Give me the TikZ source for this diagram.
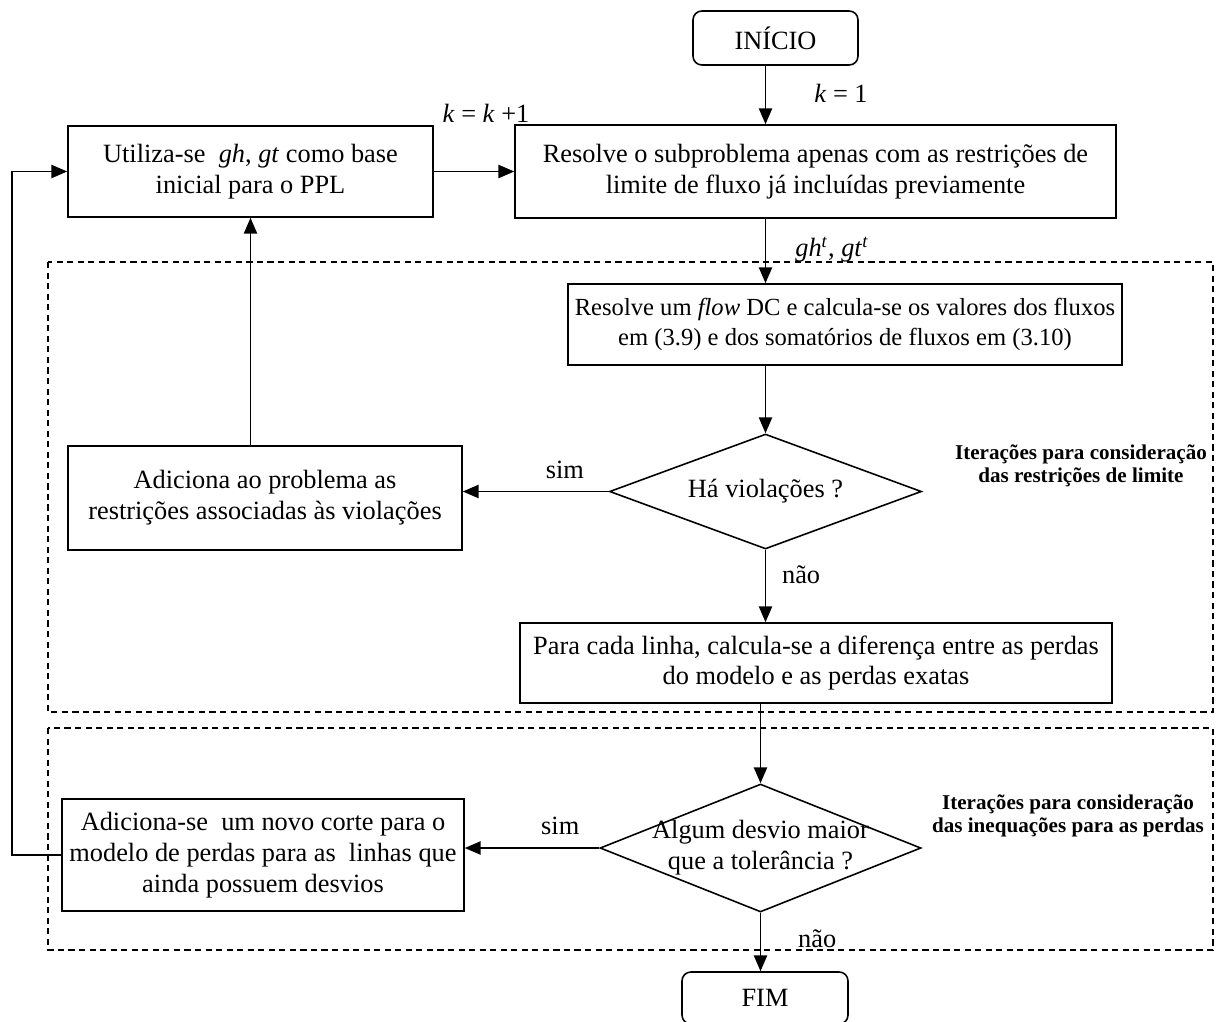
\documentclass[tikz,border=0pt]{standalone}
\usepackage{fontspec}
\setmainfont{Liberation Serif}
\usetikzlibrary{shapes.geometric}
\usetikzlibrary{arrows.meta}
\tikzstyle{caixa}=[draw,line width=0.9pt,align=center,inner sep=0pt,font=\fontsize{15}{17.5}\selectfont]
\tikzstyle{terminal}=[caixa,rounded corners=5pt]
\tikzstyle{decisao}=[draw,line width=0.9pt,shape=diamond,inner sep=0pt]
\tikzstyle{seta}=[line width=0.9pt,-{Triangle[length=9pt,width=7.5pt]}]
\tikzstyle{regiao}=[line width=0.8pt,dash pattern=on 3.5pt off 2.5pt]
\tikzstyle{rotulo}=[align=center,inner sep=1pt,font=\fontsize{15}{17.5}\selectfont]
\tikzstyle{nota}=[align=center,inner sep=1pt,font=\fontsize{12}{13.2}\selectfont\bfseries]
\newcommand{\pergunta}[5]{% Syntax: {name}{(position)}{width}{height}{text}
  \node[decisao,minimum width=#3,minimum height=#4] (#1) at #2 {};
  \node[rotulo] (#1txt) at (#1) {#5};
}

\begin{document}
\begin{tikzpicture}[x=0.02cm,y=-0.02cm]
  \clip (0,0) rectangle (1219,1021);
  % regioes das iteracoes
  \draw[regiao] (48,262) rectangle (1213,712);
  \draw[regiao] (48,728) rectangle (1213,950);
  \node[nota] (iterlim) at (1081,466) {Iterações para consideração\\das restrições de limite};
  \node[nota] (iterperd) at (1068,816) {Iterações para consideração\\das inequações para as perdas};

  \node[terminal,minimum width=3.3cm,minimum height=1.08cm] (inicio) at (775.5,38) {INÍCIO};
  \node[caixa,minimum width=12.02cm,minimum height=1.86cm] (resolve) at (815.5,171.5) {Resolve o subproblema apenas com as restrições de\\limite de fluxo já incluídas previamente};
  \node[caixa,minimum width=7.3cm,minimum height=1.82cm] (utiliza) at (250.5,171.5) {Utiliza-se~ \textit{gh}, \textit{gt} como base\\inicial para o PPL};
  \node[caixa,font=\fontsize{14}{17.5}\selectfont,minimum width=11.08cm,minimum height=1.62cm] (fluxo) at (845,324.5) {Resolve um \textit{flow} DC e calcula-se os valores dos fluxos\\em (3.9) e dos somatórios de fluxos em (3.10)};
  \pergunta{viol}{(765.5,491.5)}{6.24cm}{2.3cm}{Há violações ?}
  \node[caixa,minimum width=7.88cm,minimum height=2.08cm] (adiciona) at (265,498) {Adiciona ao problema as\\restrições associadas às violações};
  \node[caixa,minimum width=11.84cm,minimum height=1.6cm] (perdas) at (816,663) {Para cada linha, calcula-se a diferença entre as perdas\\do modelo e as perdas exatas};
  \pergunta{desvio}{(760.5,848)}{6.42cm}{2.56cm}{Algum desvio maior\\que a tolerância ?}
  \node[caixa,minimum width=8.04cm,minimum height=2.24cm] (corte) at (263,855) {Adiciona-se~ um novo corte para o\\modelo de perdas para as~ linhas que\\ainda possuem desvios};
  \node[terminal,minimum width=3.32cm,minimum height=1.04cm] (fim) at (765,998) {FIM};

  % rotulos
  \node[rotulo] (kum) at (841,93) {\textit{k} = 1};
  \node[rotulo] (kmais) at (486,113) {\textit{k} = \textit{k} +1};
  \node[rotulo] (ghgt) at (832,250) {\textit{gh}\textsuperscript{\textit{t}}, \textit{gt}\textsuperscript{\textit{t}}};

  % setas
  \draw[seta] (inicio.south -| viol.north) -- (resolve.north -| viol.north);
  \draw[seta] (utiliza.east) -- (resolve.west);
  \draw[seta] (resolve.south -| viol.north) -- (fluxo.north -| viol.north);
  \draw[seta] (fluxo.south -| viol.north) -- (viol.north);
  \draw[seta] (viol.west) -- (viol.west -| adiciona.east) node[rotulo,pos=0.3,above=6pt] (sim1) {sim};
  \draw[seta] (adiciona.north -| utiliza.south) -- (utiliza.south);
  \draw[seta] (viol.south) -- (perdas.north -| viol.south) node[rotulo,pos=0.35,right=8pt] (nao1) {não};
  \draw[seta] (perdas.south -| desvio.north) -- (desvio.north);
  \draw[seta] (desvio.west) -- (desvio.west -| corte.east) node[rotulo,pos=0.29,above=6pt] (sim2) {sim};
  \draw[seta] (desvio.south) -- (fim.north -| desvio.south) node[rotulo,pos=0.45,right=20pt] (nao2) {não};
  \draw[seta] (corte.west) -- ++(-49,0) |- (utiliza.west);
\end{tikzpicture}
\end{document}
